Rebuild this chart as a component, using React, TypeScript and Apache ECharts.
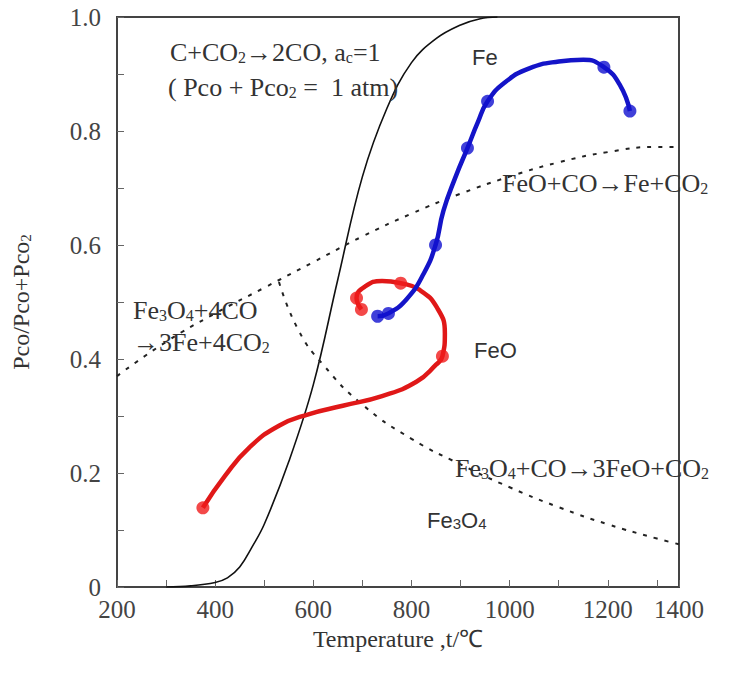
import { useEffect, useRef } from "react";
import * as echarts from "echarts";

// Boudouard equilibrium (solid black)
const boudT = [300, 350, 400, 425, 450, 475, 500, 550, 600, 650, 700, 750, 800, 850, 900, 940, 975];
const boudV = [0, 0.002, 0.008, 0.016, 0.035, 0.07, 0.11, 0.22, 0.355, 0.54, 0.72, 0.84, 0.92, 0.962, 0.986, 0.997, 1.0];

// Fe3O4/Fe and FeO/Fe equilibrium (dashed, upper)
const feT = [200, 300, 400, 500, 600, 700, 800, 900, 1000, 1100, 1200, 1300, 1345];
const feV = [0.37, 0.43, 0.48, 0.525, 0.57, 0.615, 0.655, 0.69, 0.72, 0.745, 0.763, 0.772, 0.772];

// Fe3O4/FeO equilibrium (dashed, lower)
const feoT = [530, 570, 620, 700, 800, 900, 1000, 1100, 1200, 1300, 1345];
const feoV = [0.535, 0.45, 0.39, 0.32, 0.26, 0.215, 0.175, 0.14, 0.11, 0.085, 0.075];

// Experimental path, red part
const redT = [375, 420, 470, 530, 590, 660, 740, 810, 850, 863, 868, 852, 815, 778, 740, 705, 688, 698];
const redV = [0.139, 0.195, 0.245, 0.283, 0.303, 0.318, 0.335, 0.36, 0.39, 0.405, 0.445, 0.49, 0.522, 0.533, 0.537, 0.527, 0.507, 0.487];
const redMarkT = [375, 863, 778, 688, 698];
const redMarkV = [0.139, 0.405, 0.533, 0.507, 0.487];

// Experimental path, blue part
const blueT = [731, 753, 790, 825, 849, 865, 890, 914, 935, 955, 990, 1040, 1100, 1150, 1192, 1225, 1245];
const blueV = [0.475, 0.48, 0.505, 0.55, 0.6, 0.66, 0.72, 0.77, 0.815, 0.852, 0.885, 0.91, 0.922, 0.925, 0.912, 0.88, 0.835];
const blueMarkT = [731, 753, 849, 914, 955, 1192, 1245];
const blueMarkV = [0.475, 0.48, 0.6, 0.77, 0.852, 0.912, 0.835];

const xMin = 200;
const xMax = 1345;
const xTickLabels: Record<string, string> = {
  "200": "200", "400": "400", "600": "600", "800": "800",
  "1000": "1000", "1200": "1200", "1345": "1400",
};

const zip = (a: number[], b: number[]) => a.map((v, i) => [v, b[i]]);

const SERIF = "'Liberation Serif', 'Times New Roman', serif";
const SANS = "'Liberation Sans', Arial, sans-serif";
const TXT = "#333";

export default function App() {
  const ref = useRef<HTMLDivElement>(null);
  useEffect(() => {
    if (!ref.current) return;
    const chart = echarts.init(ref.current, null, { renderer: "svg" });
    const big = 26;
    const sub = 16;
    const rich = {
      a: { fontFamily: SERIF, fontSize: big, fill: TXT, color: TXT, verticalAlign: "bottom" },
      s: { fontFamily: SERIF, fontSize: sub, fill: TXT, color: TXT, verticalAlign: "bottom" },
      b: { fontFamily: SANS, fontSize: 22, fill: TXT, color: TXT, verticalAlign: "bottom" },
      bs: { fontFamily: SANS, fontSize: 15, fill: TXT, color: TXT, verticalAlign: "bottom" },
    };
    const label = (x: number, y: number, text: string) => ({
      type: "text",
      x,
      y,
      style: { text, rich, fill: TXT, verticalAlign: "middle", align: "left" },
      z: 10,
    });
    chart.setOption({
      animation: false,
      backgroundColor: "#fff",
      grid: { left: 117, right: 55, top: 17, bottom: 90, show: true, borderColor: "#444", borderWidth: 2, backgroundColor: "transparent" },
      xAxis: {
        type: "value",
        min: xMin,
        max: xMax,
        interval: 100,
        name: "Temperature ,t/℃",
        nameLocation: "middle",
        nameGap: 32,
        nameTextStyle: { fontFamily: SERIF, fontSize: 24, color: TXT },
        axisLine: { show: true, lineStyle: { color: "#444", width: 2 } },
        axisTick: { show: true, inside: true, length: 7, lineStyle: { color: "#666", width: 1 } },
        splitLine: { show: false },
        axisLabel: {
          fontFamily: SERIF,
          fontSize: 25,
          color: "#444",
          margin: 10,
          showMinLabel: true,
          showMaxLabel: true,
          formatter: (v: number) => xTickLabels[String(Math.round(v))] ?? "",
        },
      },
      yAxis: {
        type: "value",
        min: 0,
        max: 1,
        interval: 0.1,
        name: "{a|Pco/Pco+Pco}{s|2}",
        nameLocation: "middle",
        nameGap: 84,
        nameRotate: 90,
        nameTextStyle: {
          rich: {
            a: { fontFamily: SERIF, fontSize: 24, color: TXT, verticalAlign: "bottom" },
            s: { fontFamily: SERIF, fontSize: 15, color: TXT, verticalAlign: "bottom" },
          },
        },
        axisLine: { show: true, lineStyle: { color: "#444", width: 2 } },
        axisTick: { show: true, inside: true, length: 7, lineStyle: { color: "#666", width: 1 } },
        splitLine: { show: false },
        axisLabel: {
          fontFamily: SERIF,
          fontSize: 25,
          color: "#444",
          margin: 16,
          formatter: (v: number) => {
            const k = Math.round(v * 10);
            if (k % 2 !== 0) return "";
            return k === 0 ? "0" : (k / 10).toFixed(1);
          },
        },
      },
      series: [
        {
          type: "line",
          data: zip(boudT, boudV),
          smooth: 0.4,
          showSymbol: false,
          lineStyle: { color: "#111", width: 1.6 },
        },
        {
          type: "line",
          data: zip(feT, feV),
          smooth: true,
          showSymbol: false,
          lineStyle: { color: "#222", width: 2, type: [4, 7] },
        },
        {
          type: "line",
          data: zip(feoT, feoV),
          smooth: true,
          showSymbol: false,
          lineStyle: { color: "#222", width: 2, type: [4, 7] },
        },
        {
          type: "line",
          data: zip(redT, redV),
          smooth: true,
          showSymbol: false,
          lineStyle: { color: "#e01818", width: 4.5 },
          z: 3,
        },
        {
          type: "line",
          data: zip(blueT, blueV),
          smooth: true,
          showSymbol: false,
          lineStyle: { color: "#1414c8", width: 4.5 },
          z: 4,
        },
        {
          type: "scatter",
          data: zip(redMarkT, redMarkV),
          symbolSize: 13,
          itemStyle: { color: "#f01c1c" },
          z: 5,
        },
        {
          type: "scatter",
          data: zip(blueMarkT, blueMarkV),
          symbolSize: 13,
          itemStyle: { color: "#1010d0" },
          z: 6,
        },
      ],
      graphic: [
        label(170, 52, "{a|C+CO}{s|2}{a|→2CO, a}{s|c}{a|=1}"),
        label(168, 87, "{a|( Pco + Pco}{s|2}{a| =  1 atm)}"),
        label(472, 57, "{b|Fe}"),
        label(502, 183, "{a|FeO+CO→Fe+CO}{s|2}"),
        label(133, 310, "{a|Fe}{s|3}{a|O}{s|4}{a|+4CO}"),
        label(133, 342, "{a|→3Fe+4CO}{s|2}"),
        label(474, 350, "{b|FeO}"),
        label(455, 468, "{a|Fe}{s|3}{a|O}{s|4}{a|+CO→3FeO+CO}{s|2}"),
        label(427, 520, "{b|Fe}{bs|3}{b|O}{bs|4}"),
      ],
    });
    return () => chart.dispose();
  }, []);
  return <div ref={ref} style={{ position: "fixed", left: 0, top: 0, width: 734, height: 677 }} />;
}
